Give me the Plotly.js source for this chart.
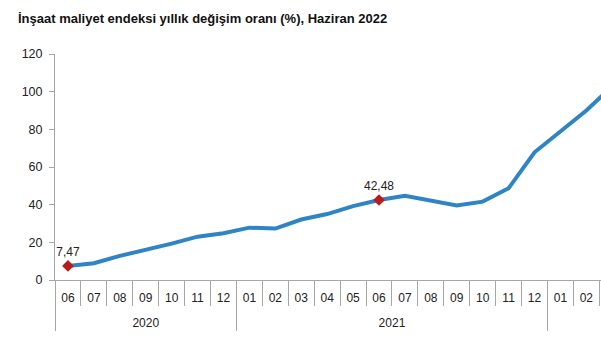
<!DOCTYPE html>
<html>
<head>
<meta charset="utf-8">
<script src="https://cdn.plot.ly/plotly-3.0.1.min.js"></script>
<style>
  html, body { margin: 0; padding: 0; background: #fff; overflow: hidden; width: 601px; height: 356px; }
  #chart { width: 703px; height: 356px; }
</style>
</head>
<body>
<div id="chart"></div>
<script>
// Years (outer level) and months (inner level) of the x axis
const years = [
  "2020","2020","2020","2020","2020","2020","2020",
  "2021","2021","2021","2021","2021","2021","2021","2021","2021","2021","2021","2021",
  "2022","2022","2022","2022","2022","2022"
];
const months = [
  "06","07","08","09","10","11","12",
  "01","02","03","04","05","06","07","08","09","10","11","12",
  "01","02","03","04","05","06"
];
// Annual change of construction cost index (%)
// (the reference is cut at the right edge; later months are not visible)
const values = [
  7.47, 8.9, 12.8, 15.9, 19.3, 23.0, 24.8,
  27.8, 27.3, 32.1, 35.0, 39.2, 42.48, 44.7, 42.1, 39.6, 41.6, 48.7,
  67.8, 79.0, 90.0, 103.0, null, null, null
];
// Points that carry a data label
const labelIdx = [0, 12];

// Plotly orders inner categories by first appearance across all groups, so the
// month code of each year gets an invisible zero-width suffix to keep it distinct.
// A blank second line makes room between the month row and the year row.
const yearList = [...new Set(years)];
const monthKeys = months.map((m, i) =>
  m + "\u200B".repeat(yearList.indexOf(years[i])) + "<br>\u00A0");

const lblX = [labelIdx.map(i => years[i]), labelIdx.map(i => monthKeys[i])];
const lblY = labelIdx.map(i => values[i]);
const lblText = lblY.map(v => v.toFixed(2).replace(".", ","));

const font = "Liberation Sans, Arial, sans-serif";
const W = 703;

const traces = [
  {
    type: "scatter",
    mode: "lines",
    x: [years, monthKeys],
    y: values,
    line: { color: "#2F84C6", width: 4 },
    hoverinfo: "skip"
  },
  {
    type: "scatter",
    mode: "markers+text",
    x: lblX,
    y: lblY,
    text: lblText,
    textposition: "top center",
    textfont: { family: font, size: 12, color: "#222" },
    marker: { symbol: "diamond", size: 9, color: "#B81C1C" },
    cliponaxis: false,
    hoverinfo: "skip"
  }
];

const layout = {
  width: W,
  height: 356,
  margin: { l: 55, r: 0, t: 54, b: 76 },
  paper_bgcolor: "#fff",
  plot_bgcolor: "#fff",
  showlegend: false,
  title: {
    text: "<b>İnşaat maliyet endeksi yıllık değişim oranı (%), Haziran 2022</b>",
    font: { family: font, size: 13, color: "#111" },
    x: 18 / W, xanchor: "left", xref: "container",
    y: 1 - 18 / 356, yanchor: "middle", yref: "container"
  },
  xaxis: {
    type: "multicategory",
    range: [-0.5, 24.5],
    showline: true,
    linecolor: "#A6A6A6",
    linewidth: 1,
    ticks: "outside",
    tickson: "boundaries",
    ticklen: 25,
    tickcolor: "#A6A6A6",
    ticklabelstandoff: 7,
    showdividers: true,
    dividercolor: "#A6A6A6",
    dividerwidth: 1,
    showgrid: false,
    zeroline: false,
    tickfont: { family: font, size: 12, color: "#222" }
  },
  yaxis: {
    range: [0, 120],
    tickvals: [0, 20, 40, 60, 80, 100, 120],
    showline: true,
    linecolor: "#A6A6A6",
    ticks: "outside",
    ticklen: 5,
    tickcolor: "#A6A6A6",
    ticklabelstandoff: 4,
    showgrid: false,
    zeroline: false,
    tickfont: { family: font, size: 12.5, color: "#222" }
  }
};

Plotly.newPlot("chart", traces, layout, { displayModeBar: false, staticPlot: true });
</script>
</body>
</html>
